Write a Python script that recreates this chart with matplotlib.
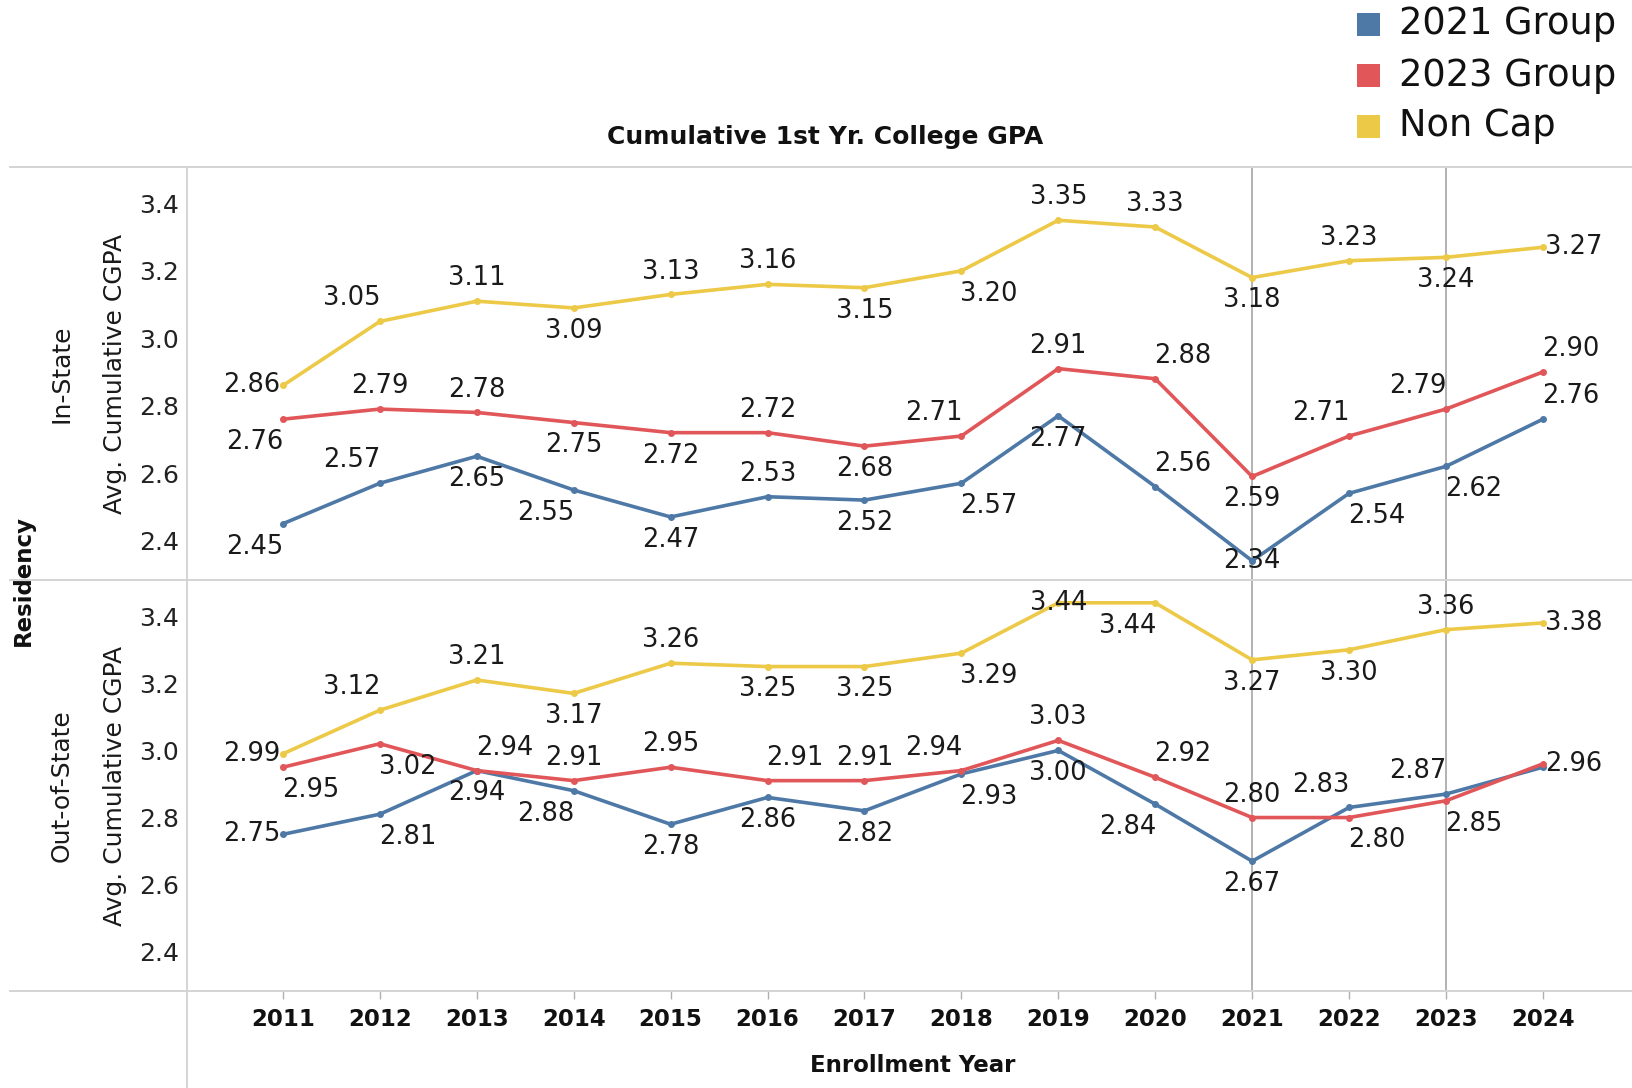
import matplotlib
matplotlib.use("Agg")
import matplotlib.pyplot as plt
from matplotlib.lines import Line2D
from matplotlib.patches import Rectangle

# ---------------- data ----------------
years = [2011, 2012, 2013, 2014, 2015, 2016, 2017, 2018, 2019, 2020, 2021, 2022, 2023, 2024]
series_names = ["2021 Group", "2023 Group", "Non Cap"]
panels = ["In-State", "Out-of-State"]

in_state_2021 = [2.45, 2.57, 2.65, 2.55, 2.47, 2.53, 2.52, 2.57, 2.77, 2.56, 2.34, 2.54, 2.62, 2.76]
in_state_2023 = [2.76, 2.79, 2.78, 2.75, 2.72, 2.72, 2.68, 2.71, 2.91, 2.88, 2.59, 2.71, 2.79, 2.90]
in_state_noncap = [2.86, 3.05, 3.11, 3.09, 3.13, 3.16, 3.15, 3.20, 3.35, 3.33, 3.18, 3.23, 3.24, 3.27]

out_state_2021 = [2.75, 2.81, 2.94, 2.88, 2.78, 2.86, 2.82, 2.93, 3.00, 2.84, 2.67, 2.83, 2.87, 2.95]
out_state_2023 = [2.95, 3.02, 2.94, 2.91, 2.95, 2.91, 2.91, 2.94, 3.03, 2.92, 2.80, 2.80, 2.85, 2.96]
out_state_noncap = [2.99, 3.12, 3.21, 3.17, 3.26, 3.25, 3.25, 3.29, 3.44, 3.44, 3.27, 3.30, 3.36, 3.38]

y_ticks = [2.4, 2.6, 2.8, 3.0, 3.2, 3.4]
ref_years = [2021, 2023]

# ---------------- label placement (style) ----------------
place_in = [
    ['bl', 'al', 'b', 'bl', 'b', 'a', 'b', 'br', 'b', 'ar', 'c', 'br', 'br', 'ar'],
    ['bl', 'a', 'a', 'b', 'b', 'a', 'b', 'al', 'a', 'ar', 'b', 'al', 'al', 'ar'],
    ['l', 'al', 'a', 'b', 'a', 'a', 'b', 'br', 'a', 'a', 'b', 'a', 'b', 'r'],
]
place_out = [
    ['l', 'br', 'b', 'bl', 'b', 'b', 'b', 'br', 'b', 'bl', 'b', 'al', 'al', None],
    ['br', 'br', 'ar', 'a', 'a', 'ar', 'a', 'al', 'a', 'ar', 'a', 'br', 'br', 'r'],
    ['l', 'al', 'a', 'b', 'a', 'b', 'b', 'br', 'c', 'bl', 'b', 'b', 'a', 'r'],
]
offs = {'a': (0, 1), 'b': (0, -1), 'l': (-1.12, 0), 'r': (1.12, 0),
        'al': (-1, 1), 'ar': (1, 1), 'bl': (-1, -1), 'br': (1, -1), 'c': (0, 0)}
DX, DY = 20.0, 16.5

colors = ["#4e79a7", "#e15759", "#edc948"]

W, H = 1633, 1088
fig = plt.figure(figsize=(W / 100, H / 100), dpi=100)
plt.rcParams['font.family'] = ['DejaVu Sans']

LEFT = 187
top_y, mid_y, bot_y = 167, 580, 991
ax1 = fig.add_axes([LEFT / W, 1 - mid_y / H, 1 - LEFT / W, (mid_y - top_y) / H])
ax2 = fig.add_axes([LEFT / W, 1 - bot_y / H, 1 - LEFT / W, (bot_y - mid_y) / H])

data = [
    (ax1, [in_state_2021, in_state_2023, in_state_noncap], place_in),
    (ax2, [out_state_2021, out_state_2023, out_state_noncap], place_out),
]

for ax, vals, places in data:
    ax.set_xlim(2010.01, 2024.93)
    ax.set_ylim(2.283, 3.508)
    for s in ax.spines.values():
        s.set_visible(False)
    for ry in ref_years:
        ax.axvline(ry, color="#a6a6a6", lw=1.2, zorder=1)
    for i, (v, c) in enumerate(zip(vals, colors)):
        ax.plot(years, v, color=c, lw=2.6, marker='o', markersize=4, zorder=3,
                solid_capstyle='round')
    for i, v in enumerate(vals):
        for x, y, p in zip(years, v, places[i]):
            if p is None:
                continue
            ox, oy = offs[p]
            ax.annotate(f"{y:.2f}", (x, y), xytext=(ox * DX, oy * DY),
                        textcoords='offset points', ha='center', va='center',
                        fontsize=18.5, color="#1a1a1a", zorder=4)
    ax.set_yticks(y_ticks)
    ax.set_yticklabels([f"{t:.1f}" for t in y_ticks])
    ax.tick_params(axis='y', length=0, pad=6, labelsize=18, labelcolor="#222222")
    ax.set_xticks(years)

ax1.tick_params(axis='x', length=0, labelbottom=False)
ax2.tick_params(axis='x', length=6, color="#b0b0b0", pad=6, width=1)
ax2.set_xticklabels([str(y) for y in years], fontsize=16.5, fontweight='bold', color="#111111")

# frame lines
for py in (top_y, mid_y, bot_y):
    fig.add_artist(Line2D([10 / W, 1.0], [1 - py / H, 1 - py / H], color="#d4d4d4", lw=1.4))
fig.add_artist(Line2D([LEFT / W, LEFT / W], [1 - top_y / H, 0.0], color="#d4d4d4", lw=1.4))

# panel labels
for name, (pt, pb) in zip(panels, [(top_y, mid_y), (mid_y, bot_y)]):
    cy = 1 - (pt + pb) / 2 / H
    fig.text(62 / W, cy, name, rotation=90, ha='center', va='center', fontsize=18, color="#1a1a1a")
    fig.text(115 / W, cy, "Avg. Cumulative CGPA", rotation=90, ha='center', va='center',
             fontsize=18, color="#1a1a1a")

fig.text(23 / W, 1 - mid_y / H, "Residency", rotation=90, ha='center', va='center',
         fontsize=16.5, fontweight='bold', color="#111111")
fig.text(913 / W, 1 - 1066 / H, "Enrollment Year", ha='center', va='center',
         fontsize=16.5, fontweight='bold', color="#111111")
fig.text(825 / W, 1 - 137 / H, "Cumulative 1st Yr. College GPA", ha='center', va='center',
         fontsize=18, fontweight='bold', color="#111111")

# legend
leg_y = [24, 75, 126]
for name, c, ly in zip(series_names, colors, leg_y):
    fig.add_artist(Rectangle((1357 / W, 1 - (ly + 11.5) / H), 23 / W, 23 / H,
                             transform=fig.transFigure, color=c, lw=0))
    fig.text(1399 / W, 1 - ly / H, name, ha='left', va='center', fontsize=26.5, color="#111111")

fig.savefig("out.png", dpi=100)
